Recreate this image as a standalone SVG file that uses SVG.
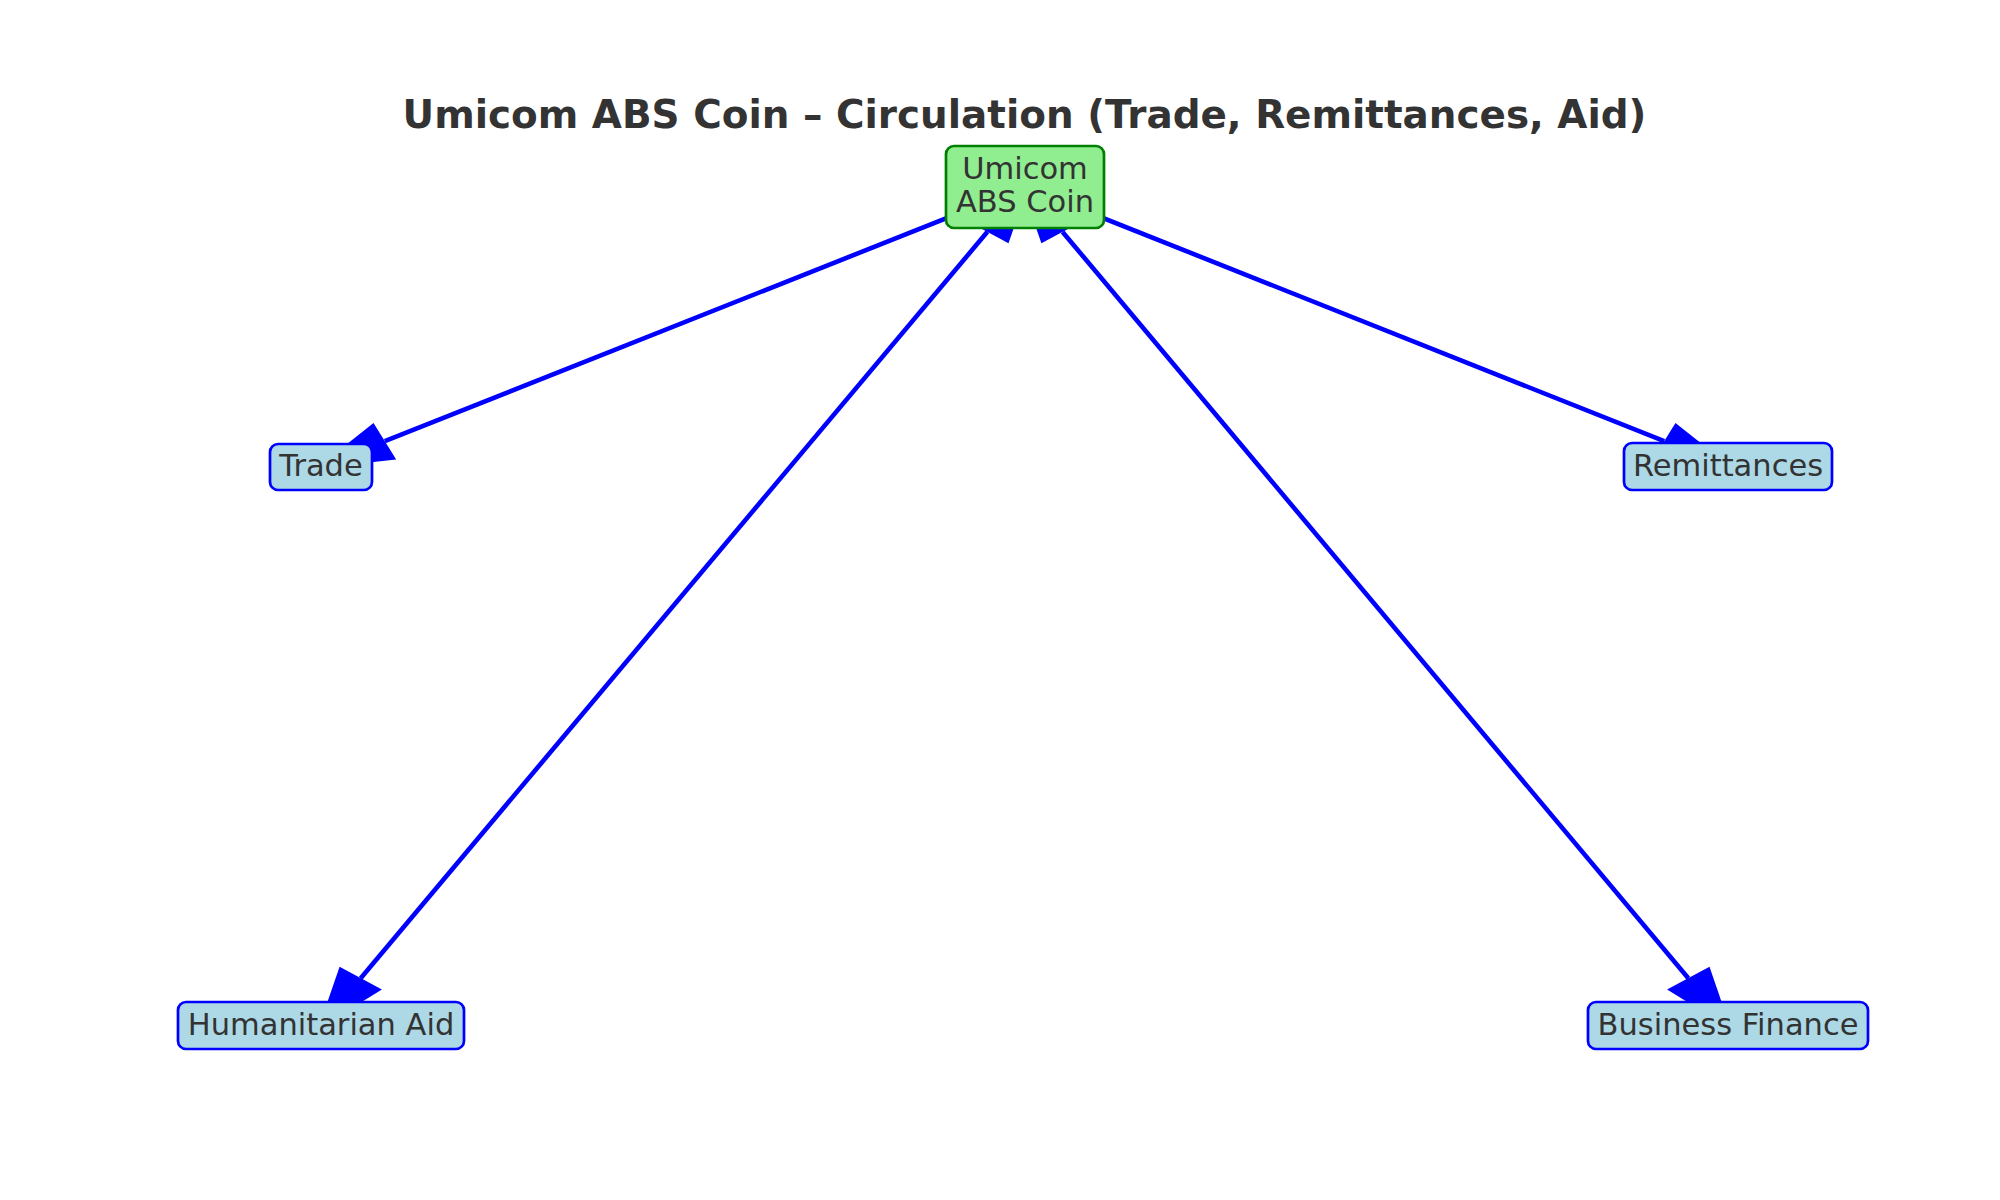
<svg xmlns="http://www.w3.org/2000/svg" width="2000" height="1200" viewBox="0 0 2000 1200">
<style>
.edge{stroke:#0000FF;stroke-width:4.6;fill:none}
.head{fill:#0000FF;stroke:none}
.leaf{fill:#ADD8E6;stroke:#0000FF;stroke-width:2.7}
.hub{fill:#90EE90;stroke:#008000;stroke-width:2.7}
.lbl{font-family:"DejaVu Sans",sans-serif;font-size:30.5px;fill:#333333;text-anchor:middle}
.title{font-family:"DejaVu Sans",sans-serif;font-size:38.9px;font-weight:bold;fill:#333333;text-anchor:middle}
</style>
<rect width="2000" height="1200" fill="#FFFFFF"/>
<text class="title" x="1024.5" y="127.5">Umicom ABS Coin – Circulation (Trade, Remittances, Aid)</text>
<g id="connectors">
  <line class="edge" x1="1025" y1="187" x2="384.8" y2="441.2"/>
  <polygon class="head" points="316.5,468.3 396.2,459.4 373.5,422.9"/>
  <line class="edge" x1="1025" y1="187" x2="1664.2" y2="441.1"/>
  <polygon class="head" points="1732.5,468.3 1675.5,422.9 1652.8,459.4"/>
  <line class="edge" x1="987.4" y1="231.8" x2="360.7" y2="978.2"/>
  <polygon class="head" points="318.2,1028.8 381.9,989.6 339.6,966.8"/>
  <polygon class="head" points="1029.9,181.2 1008.5,243.2 966.2,220.5"/>
  <line class="edge" x1="1062.6" y1="231.9" x2="1688.3" y2="978.2"/>
  <polygon class="head" points="1730.8,1028.8 1709.5,966.8 1667.1,989.5"/>
  <polygon class="head" points="1020.1,181.2 1083.8,220.5 1041.4,243.2"/>
</g>
<g id="node-coin">
  <rect class="hub" x="946" y="146" width="158" height="82" rx="8"/>
  <text class="lbl" x="1025" y="178.5">Umicom</text>
  <text class="lbl" x="1025" y="211.5">ABS Coin</text>
</g>
<g id="node-trade">
  <rect class="leaf" x="270" y="444" width="102" height="46" rx="8"/>
  <text class="lbl" x="321" y="476">Trade</text>
</g>
<g id="node-remittances">
  <rect class="leaf" x="1624" y="443" width="208" height="47" rx="8"/>
  <text class="lbl" x="1728" y="476">Remittances</text>
</g>
<g id="node-humanitarian">
  <rect class="leaf" x="178" y="1002" width="286" height="47" rx="8"/>
  <text class="lbl" x="321" y="1034.5">Humanitarian Aid</text>
</g>
<g id="node-business">
  <rect class="leaf" x="1588" y="1002" width="280" height="47" rx="8"/>
  <text class="lbl" x="1728" y="1034.5">Business Finance</text>
</g>
</svg>
